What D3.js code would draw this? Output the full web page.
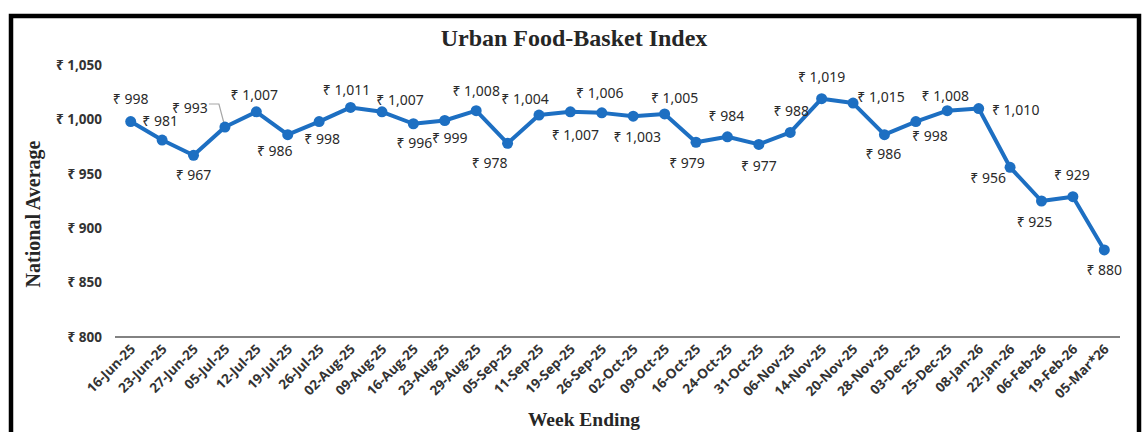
<!DOCTYPE html>
<html><head><meta charset="utf-8">
<script src="https://cdn.jsdelivr.net/npm/d3@7"></script>
<style>html,body{margin:0;padding:0;background:#fff;}svg{display:block;}</style>
</head><body>
<script>
const weeks = ["16-Jun-25","23-Jun-25","27-Jun-25","05-Jul-25","12-Jul-25","19-Jul-25","26-Jul-25","02-Aug-25","09-Aug-25","16-Aug-25","23-Aug-25","29-Aug-25","05-Sep-25","11-Sep-25","19-Sep-25","26-Sep-25","02-Oct-25","09-Oct-25","16-Oct-25","24-Oct-25","31-Oct-25","06-Nov-25","14-Nov-25","20-Nov-25","28-Nov-25","03-Dec-25","25-Dec-25","08-Jan-26","22-Jan-26","06-Feb-26","19-Feb-26","05-Mar*26"];
const values = [998,981,967,993,1007,986,998,1011,1007,996,999,1008,978,1004,1007,1006,1003,1005,979,984,977,988,1019,1015,986,998,1008,1010,956,925,929,880];
const yTicks = [800,850,900,950,1000,1050];
const title = "Urban Food-Basket Index";
const xTitle = "Week Ending";
const yTitle = "National Average";

// label placement nudges (layout only): [dx, dy] of label centre from point
const labelNudge = [[0,-23],[-2,-20],[0,19],[-35,-20],[-2,-17],[-13,16],[3,17],[-4,-18],[18,-12],[1,19],[5,17],[0,-20],[-18,19],[-14,-17],[5,23],[-2,-20],[4,20],[10,-16],[-9,20],[-1,-21],[0,21],[1,-22],[0,-22],[28,-7],[-1,19],[14,14],[-2,-15],[37,1],[-22,10],[-7,20],[-1,-22],[0,20]];

const W = 1144, H = 432;
const blue = "#1d6fc2";
const svg = d3.select("body").append("svg").attr("width", W).attr("height", H);

svg.append("rect").attr("x",11).attr("y",16).attr("width",1128).attr("height",440)
  .attr("fill","#fff").attr("stroke","#000").attr("stroke-width",4.5);

const x = d3.scalePoint().domain(weeks).range([115,1120]).padding(0.5);
const y = d3.scaleLinear().domain([800,1050]).range([337,65]);
const fmt = v => "\u20B9 " + d3.format(",")(v);

svg.append("text").attr("x",574).attr("y",46).attr("text-anchor","middle")
  .attr("font-family","Liberation Serif").attr("font-weight","bold").attr("font-size",24)
  .attr("fill","#262626").text(title);

// y axis (labels only)
const yAxis = svg.append("g").attr("transform","translate(102,0)")
  .call(d3.axisLeft(y).tickValues(yTicks).tickSize(0).tickPadding(0).tickFormat(fmt));
yAxis.select(".domain").remove();
yAxis.selectAll("text").attr("font-family","Noto Sans").attr("font-weight","bold")
  .attr("font-size",13.5).attr("fill","#333");

// x axis
const xAxis = svg.append("g").attr("transform","translate(0,337)")
  .call(d3.axisBottom(x).tickSize(0).tickPadding(0));
xAxis.select(".domain").attr("stroke","#595959").attr("stroke-width",1.5)
  .attr("d","M115,0H1120");
xAxis.selectAll("text").attr("font-family","Open Sans").attr("font-weight","bold")
  .attr("font-size",13.5).attr("fill","#333")
  .attr("text-anchor","end").attr("dy",0)
  .attr("transform","translate(5,13) rotate(-45)");

svg.append("text").attr("x",584).attr("y",426).attr("text-anchor","middle")
  .attr("font-family","Liberation Serif").attr("font-weight","bold").attr("font-size",19.5)
  .attr("fill","#262626").text(xTitle);
svg.append("text").attr("transform","translate(40,214) rotate(-90)").attr("text-anchor","middle")
  .attr("font-family","Liberation Serif").attr("font-weight","bold").attr("font-size",20)
  .attr("fill","#262626").text(yTitle);

const data = weeks.map((w,i)=>({w, v: values[i], i}));

// leader line for 05-Jul label
const ld = data[3];
const lx = x(ld.w), ly = y(ld.v);
svg.append("path").attr("fill","none").attr("stroke","#a6a6a6").attr("stroke-width",1.2)
  .attr("d", `M${lx-16},${ly-23}H${lx-6}L${lx-1},${ly-4}`);

svg.append("path").datum(data).attr("fill","none").attr("stroke",blue)
  .attr("stroke-width",4).attr("stroke-linejoin","round")
  .attr("d", d3.line().x(d=>x(d.w)).y(d=>y(d.v)));

svg.selectAll("circle.pt").data(data).join("circle").attr("class","pt")
  .attr("cx",d=>x(d.w)).attr("cy",d=>y(d.v)).attr("r",5.5).attr("fill",blue);

svg.selectAll("text.lbl").data(data).join("text").attr("class","lbl")
  .attr("x",d=>x(d.w)+labelNudge[d.i][0]).attr("y",d=>y(d.v)+labelNudge[d.i][1])
  .attr("text-anchor","middle").attr("dominant-baseline","central")
  .attr("font-family","Noto Sans").attr("font-size",14).attr("fill","#2a2a2a")
  .text(d=>fmt(d.v));
</script>
</body></html>
